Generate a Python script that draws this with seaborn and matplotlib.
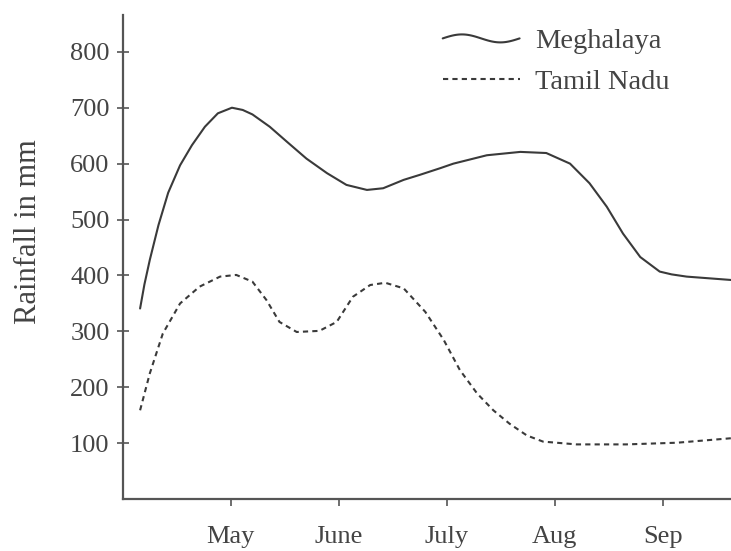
import numpy as np
import pandas as pd
import matplotlib
matplotlib.use("Agg")
import matplotlib.pyplot as plt
from matplotlib.lines import Line2D
from matplotlib.legend_handler import HandlerLine2D
import seaborn as sns

# posiciones en "meses" (May = 1, June = 2, ...)
meghalaya_x = [0.16, 0.20, 0.25, 0.33, 0.42, 0.53, 0.64, 0.76, 0.88, 1.01, 1.11, 1.20,
               1.36, 1.52, 1.70, 1.89, 2.07, 2.26, 2.41, 2.60, 2.75, 2.94, 3.06, 3.37,
               3.68, 3.92, 4.14, 4.32, 4.48, 4.63, 4.79, 4.97, 5.08, 5.22, 5.63]
meghalaya_mm = [341, 384, 428, 490, 548, 597, 633, 666, 690, 700, 696, 688,
                666, 639, 609, 583, 562, 553, 556, 571, 580, 592, 600, 615,
                621, 619, 600, 565, 523, 475, 433, 407, 402, 398, 392]

tamil_x = [0.16, 0.25, 0.37, 0.53, 0.71, 0.90, 1.05, 1.20, 1.33, 1.45, 1.61, 1.82,
           1.98, 2.13, 2.29, 2.43, 2.60, 2.80, 2.97, 3.12, 3.28, 3.43, 3.58, 3.74,
           3.89, 4.20, 4.66, 5.13, 5.63]
tamil_mm = [159, 225, 296, 350, 380, 398, 401, 389, 356, 317, 299, 301,
            317, 362, 383, 387, 377, 335, 285, 231, 189, 159, 135, 114,
            103, 98, 98, 101, 109]

meses = ["May", "June", "July", "Aug", "Sep"]
meses_pos = [1, 2, 3, 4, 5]
y_ticks = [100, 200, 300, 400, 500, 600, 700, 800]

df = pd.concat([
    pd.DataFrame({"mes": meghalaya_x, "mm": meghalaya_mm, "estado": "Meghalaya"}),
    pd.DataFrame({"mes": tamil_x, "mm": tamil_mm, "estado": "Tamil Nadu"}),
], ignore_index=True)


class HandlerOnda(HandlerLine2D):
    # muestra de leyenda ondulada, como en el original
    def create_artists(self, legend, orig_handle, xdescent, ydescent, width, height,
                       fontsize, trans):
        t = np.linspace(0, 1, 50)
        xs = -xdescent + t * width
        ys = -ydescent + height / 2 + 0.2 * height * np.sin(2 * np.pi * t)
        linea = Line2D(xs, ys, color=orig_handle.get_color(),
                       linewidth=orig_handle.get_linewidth())
        linea.set_transform(trans)
        return [linea]


sns.set_style("ticks")
plt.rcParams["font.family"] = ["Liberation Serif", "DejaVu Serif"]

gris = "#3a3a3a"
texto = "#444444"
fig = plt.figure(figsize=(7.31, 5.51), dpi=100)
ax = fig.add_axes([0.168, 0.094, 0.832, 0.879])

sns.lineplot(data=df, x="mes", y="mm", style="estado", estimator=None, sort=False,
             color=gris, linewidth=1.5, dashes={"Meghalaya": "", "Tamil Nadu": (2.5, 2)},
             ax=ax)

ax.set_xlim(0, 5.63)
ax.set_ylim(0, 866)
ax.set_xticks(meses_pos)
ax.set_xticklabels(meses)
ax.set_yticks(y_ticks)
ax.set_xlabel("")
ax.set_ylabel("Rainfall in mm", fontsize=22, color=texto)
ax.yaxis.set_label_coords(-0.132, 0.552)

for lado in ["top", "right"]:
    ax.spines[lado].set_visible(False)
for lado in ["left", "bottom"]:
    ax.spines[lado].set_color("#555555")
    ax.spines[lado].set_linewidth(1.6)

ax.tick_params(axis="y", direction="inout", length=9, width=1.2, colors="#555555",
               labelcolor=texto, labelsize=19, pad=5)
ax.tick_params(axis="x", direction="out", length=5, width=1.2, colors="#555555",
               labelcolor=texto, labelsize=19, pad=14)

handles, labels = ax.get_legend_handles_labels()
leg = ax.legend(handles, labels, loc="upper left", bbox_to_anchor=(0.526, 0.972),
                frameon=False, fontsize=20.5, handlelength=2.7, handletextpad=0.53,
                labelspacing=0.5, borderpad=0, borderaxespad=0,
                handler_map={handles[0]: HandlerOnda()})
for t in leg.get_texts():
    t.set_color(texto)

fig.savefig("out.png", dpi=100)
